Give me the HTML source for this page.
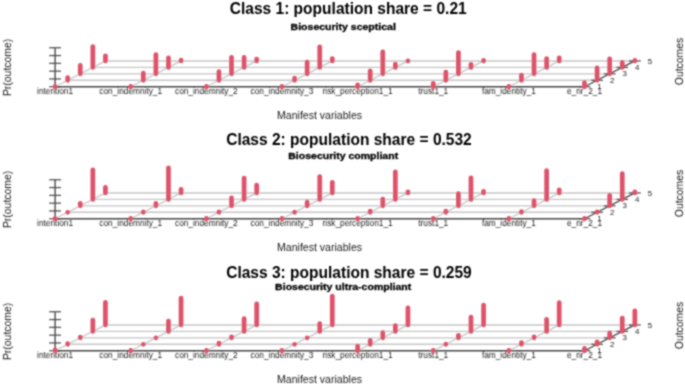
<!DOCTYPE html>
<html><head><meta charset="utf-8"><style>
html,body{margin:0;padding:0;background:#fff;}
body{width:685px;height:385px;overflow:hidden;}
svg{display:block;}
text{font-family:"Liberation Sans",sans-serif;}
</style></head><body>
<svg width="685" height="385" viewBox="0 0 685 385">
<defs><filter id="bl" x="-5%" y="-5%" width="110%" height="110%"><feConvolveMatrix order="3" kernelMatrix="1 2 1 2 6 2 1 2 1" preserveAlpha="false" edgeMode="duplicate"/></filter></defs>
<rect width="685" height="385" fill="#fff"/>
<g filter="url(#bl)">

<g>
<text transform="translate(348.2,13.5) scale(0.96,1)" font-size="16.2" font-weight="bold" text-anchor="middle" fill="#000">Class 1: population share = 0.21</text>
<text transform="translate(343.2,30.1) scale(1.145,1)" font-size="9.2" font-weight="bold" text-anchor="middle" fill="#000" stroke="#000" stroke-width="0.3">Biosecurity sceptical</text>
<text transform="translate(10.6,67.4) rotate(-90)" font-size="10.45" text-anchor="middle" fill="#1a1a1a">Pr(outcome)</text>
<text transform="translate(683.2,61.5) rotate(-90)" font-size="10.4" text-anchor="middle" fill="#1a1a1a">Outcomes</text>
<text transform="translate(319.55,118.9) scale(1.037,1)" font-size="10.2" text-anchor="middle" fill="#1a1a1a">Manifest variables</text>
<line x1="67.68" y1="80.3" x2="597.09" y2="80.3" stroke="#c6c6c6" stroke-width="1.4"/>
<line x1="80.26" y1="73.85" x2="609.67" y2="73.85" stroke="#c6c6c6" stroke-width="1.4"/>
<line x1="92.84" y1="67.4" x2="622.25" y2="67.4" stroke="#c6c6c6" stroke-width="1.4"/>
<line x1="105.42" y1="60.95" x2="634.83" y2="60.95" stroke="#c6c6c6" stroke-width="1.4"/>
<line x1="55.1" y1="86.75" x2="105.42" y2="60.95" stroke="#c6c6c6" stroke-width="1.4"/>
<line x1="130.73" y1="86.75" x2="181.05" y2="60.95" stroke="#c6c6c6" stroke-width="1.4"/>
<line x1="206.36" y1="86.75" x2="256.68" y2="60.95" stroke="#c6c6c6" stroke-width="1.4"/>
<line x1="281.99" y1="86.75" x2="332.31" y2="60.95" stroke="#c6c6c6" stroke-width="1.4"/>
<line x1="357.62" y1="86.75" x2="407.94" y2="60.95" stroke="#c6c6c6" stroke-width="1.4"/>
<line x1="433.25" y1="86.75" x2="483.57" y2="60.95" stroke="#c6c6c6" stroke-width="1.4"/>
<line x1="508.88" y1="86.75" x2="559.2" y2="60.95" stroke="#c6c6c6" stroke-width="1.4"/>
<line x1="55.1" y1="86.75" x2="584.51" y2="86.75" stroke="#484848" stroke-width="1.4"/>
<line x1="584.51" y1="86.75" x2="634.83" y2="60.95" stroke="#484848" stroke-width="1.4"/>
<line x1="578.61" y1="86.75" x2="590.41" y2="86.75" stroke="#484848" stroke-width="1.2"/>
<text x="599.51" y="89.05" font-size="7.9" text-anchor="middle" fill="#222">1</text>
<line x1="591.19" y1="80.3" x2="602.99" y2="80.3" stroke="#484848" stroke-width="1.2"/>
<text x="612.09" y="82.75" font-size="7.9" text-anchor="middle" fill="#222">2</text>
<line x1="603.77" y1="73.85" x2="615.57" y2="73.85" stroke="#484848" stroke-width="1.2"/>
<text x="624.67" y="76.45" font-size="7.9" text-anchor="middle" fill="#222">3</text>
<line x1="616.35" y1="67.4" x2="628.15" y2="67.4" stroke="#484848" stroke-width="1.2"/>
<text x="637.25" y="70.15" font-size="7.9" text-anchor="middle" fill="#222">4</text>
<line x1="628.93" y1="60.95" x2="640.73" y2="60.95" stroke="#484848" stroke-width="1.2"/>
<text x="649.83" y="63.85" font-size="7.9" text-anchor="middle" fill="#222">5</text>
<line x1="55.1" y1="86.75" x2="55.1" y2="47.75" stroke="#484848" stroke-width="1.4"/>
<line x1="49.2" y1="86.75" x2="61" y2="86.75" stroke="#484848" stroke-width="1.2"/>
<line x1="49.2" y1="78.95" x2="61" y2="78.95" stroke="#484848" stroke-width="1.2"/>
<line x1="49.2" y1="71.15" x2="61" y2="71.15" stroke="#484848" stroke-width="1.2"/>
<line x1="49.2" y1="63.35" x2="61" y2="63.35" stroke="#484848" stroke-width="1.2"/>
<line x1="49.2" y1="55.55" x2="61" y2="55.55" stroke="#484848" stroke-width="1.2"/>
<line x1="49.2" y1="47.75" x2="61" y2="47.75" stroke="#484848" stroke-width="1.2"/>
<text x="55.1" y="93.85" font-size="8.3" text-anchor="middle" fill="#1a1a1a">intention1</text>
<text x="130.73" y="93.85" font-size="8.3" text-anchor="middle" fill="#1a1a1a">con_indemnity_1</text>
<text x="206.36" y="93.85" font-size="8.3" text-anchor="middle" fill="#1a1a1a">con_indemnity_2</text>
<text x="281.99" y="93.85" font-size="8.3" text-anchor="middle" fill="#1a1a1a">con_indemnity_3</text>
<text x="357.62" y="93.85" font-size="8.3" text-anchor="middle" fill="#1a1a1a">risk_perception1_1</text>
<text x="433.25" y="93.85" font-size="8.3" text-anchor="middle" fill="#1a1a1a">trust1_1</text>
<text x="508.88" y="93.85" font-size="8.3" text-anchor="middle" fill="#1a1a1a">fam_identity_1</text>
<text x="584.51" y="93.85" font-size="8.3" text-anchor="middle" fill="#1a1a1a">e_nr_2_1</text>
<g stroke="#DF536B" stroke-width="4.75" stroke-linecap="round">
<line x1="55.1" y1="86.75" x2="55.1" y2="86.4"/>
<line x1="67.68" y1="80.3" x2="67.68" y2="77.6"/>
<line x1="80.26" y1="73.85" x2="80.26" y2="65.45"/>
<line x1="92.84" y1="67.4" x2="92.84" y2="46.5"/>
<line x1="105.42" y1="60.95" x2="105.42" y2="55.75"/>
<line x1="130.73" y1="86.75" x2="130.73" y2="86.4"/>
<line x1="143.31" y1="80.3" x2="143.31" y2="73.2"/>
<line x1="155.89" y1="73.85" x2="155.89" y2="54.55"/>
<line x1="168.47" y1="67.4" x2="168.47" y2="57.75"/>
<line x1="181.05" y1="60.95" x2="181.05" y2="60.15"/>
<line x1="206.36" y1="86.75" x2="206.36" y2="86.4"/>
<line x1="218.94" y1="80.3" x2="218.94" y2="71.7"/>
<line x1="231.52" y1="73.85" x2="231.52" y2="57.35"/>
<line x1="244.1" y1="67.4" x2="244.1" y2="57.4"/>
<line x1="256.68" y1="60.95" x2="256.68" y2="59.05"/>
<line x1="281.99" y1="86.75" x2="281.99" y2="86.4"/>
<line x1="294.57" y1="80.3" x2="294.57" y2="78.2"/>
<line x1="307.15" y1="73.85" x2="307.15" y2="62.05"/>
<line x1="319.73" y1="67.4" x2="319.73" y2="46.85"/>
<line x1="332.31" y1="60.95" x2="332.31" y2="58.55"/>
<line x1="357.62" y1="86.75" x2="357.62" y2="84.85"/>
<line x1="370.2" y1="80.3" x2="370.2" y2="70.9"/>
<line x1="382.78" y1="73.85" x2="382.78" y2="51.75"/>
<line x1="395.36" y1="67.4" x2="395.36" y2="64"/>
<line x1="407.94" y1="60.95" x2="407.94" y2="60.9"/>
<line x1="433.25" y1="86.75" x2="433.25" y2="83.35"/>
<line x1="445.83" y1="80.3" x2="445.83" y2="72"/>
<line x1="458.41" y1="73.85" x2="458.41" y2="52.55"/>
<line x1="470.99" y1="67.4" x2="470.99" y2="64.3"/>
<line x1="483.57" y1="60.95" x2="483.57" y2="60.45"/>
<line x1="508.88" y1="86.75" x2="508.88" y2="86.4"/>
<line x1="521.46" y1="80.3" x2="521.46" y2="75.1"/>
<line x1="534.04" y1="73.85" x2="534.04" y2="54.55"/>
<line x1="546.62" y1="67.4" x2="546.62" y2="58.5"/>
<line x1="559.2" y1="60.95" x2="559.2" y2="57.8"/>
<line x1="584.51" y1="86.75" x2="584.51" y2="82.55"/>
<line x1="597.09" y1="80.3" x2="597.09" y2="67.8"/>
<line x1="609.67" y1="73.85" x2="609.67" y2="58.75"/>
<line x1="622.25" y1="67.4" x2="622.25" y2="62.4"/>
<line x1="634.83" y1="60.95" x2="634.83" y2="60.45"/>
</g></g>
<g>
<text transform="translate(348.95,145.4) scale(0.96,1)" font-size="16.2" font-weight="bold" text-anchor="middle" fill="#000">Class 2: population share = 0.532</text>
<text transform="translate(343.2,158.9) scale(1.145,1)" font-size="9.2" font-weight="bold" text-anchor="middle" fill="#000" stroke="#000" stroke-width="0.3">Biosecurity compliant</text>
<text transform="translate(10.6,199.4) rotate(-90)" font-size="10.45" text-anchor="middle" fill="#1a1a1a">Pr(outcome)</text>
<text transform="translate(683.2,193.5) rotate(-90)" font-size="10.4" text-anchor="middle" fill="#1a1a1a">Outcomes</text>
<text transform="translate(319.55,250.9) scale(1.037,1)" font-size="10.2" text-anchor="middle" fill="#1a1a1a">Manifest variables</text>
<line x1="67.68" y1="212.3" x2="597.09" y2="212.3" stroke="#c6c6c6" stroke-width="1.4"/>
<line x1="80.26" y1="205.85" x2="609.67" y2="205.85" stroke="#c6c6c6" stroke-width="1.4"/>
<line x1="92.84" y1="199.4" x2="622.25" y2="199.4" stroke="#c6c6c6" stroke-width="1.4"/>
<line x1="105.42" y1="192.95" x2="634.83" y2="192.95" stroke="#c6c6c6" stroke-width="1.4"/>
<line x1="55.1" y1="218.75" x2="105.42" y2="192.95" stroke="#c6c6c6" stroke-width="1.4"/>
<line x1="130.73" y1="218.75" x2="181.05" y2="192.95" stroke="#c6c6c6" stroke-width="1.4"/>
<line x1="206.36" y1="218.75" x2="256.68" y2="192.95" stroke="#c6c6c6" stroke-width="1.4"/>
<line x1="281.99" y1="218.75" x2="332.31" y2="192.95" stroke="#c6c6c6" stroke-width="1.4"/>
<line x1="357.62" y1="218.75" x2="407.94" y2="192.95" stroke="#c6c6c6" stroke-width="1.4"/>
<line x1="433.25" y1="218.75" x2="483.57" y2="192.95" stroke="#c6c6c6" stroke-width="1.4"/>
<line x1="508.88" y1="218.75" x2="559.2" y2="192.95" stroke="#c6c6c6" stroke-width="1.4"/>
<line x1="55.1" y1="218.75" x2="584.51" y2="218.75" stroke="#484848" stroke-width="1.4"/>
<line x1="584.51" y1="218.75" x2="634.83" y2="192.95" stroke="#484848" stroke-width="1.4"/>
<line x1="578.61" y1="218.75" x2="590.41" y2="218.75" stroke="#484848" stroke-width="1.2"/>
<text x="599.51" y="221.05" font-size="7.9" text-anchor="middle" fill="#222">1</text>
<line x1="591.19" y1="212.3" x2="602.99" y2="212.3" stroke="#484848" stroke-width="1.2"/>
<text x="612.09" y="214.75" font-size="7.9" text-anchor="middle" fill="#222">2</text>
<line x1="603.77" y1="205.85" x2="615.57" y2="205.85" stroke="#484848" stroke-width="1.2"/>
<text x="624.67" y="208.45" font-size="7.9" text-anchor="middle" fill="#222">3</text>
<line x1="616.35" y1="199.4" x2="628.15" y2="199.4" stroke="#484848" stroke-width="1.2"/>
<text x="637.25" y="202.15" font-size="7.9" text-anchor="middle" fill="#222">4</text>
<line x1="628.93" y1="192.95" x2="640.73" y2="192.95" stroke="#484848" stroke-width="1.2"/>
<text x="649.83" y="195.85" font-size="7.9" text-anchor="middle" fill="#222">5</text>
<line x1="55.1" y1="218.75" x2="55.1" y2="179.75" stroke="#484848" stroke-width="1.4"/>
<line x1="49.2" y1="218.75" x2="61" y2="218.75" stroke="#484848" stroke-width="1.2"/>
<line x1="49.2" y1="210.95" x2="61" y2="210.95" stroke="#484848" stroke-width="1.2"/>
<line x1="49.2" y1="203.15" x2="61" y2="203.15" stroke="#484848" stroke-width="1.2"/>
<line x1="49.2" y1="195.35" x2="61" y2="195.35" stroke="#484848" stroke-width="1.2"/>
<line x1="49.2" y1="187.55" x2="61" y2="187.55" stroke="#484848" stroke-width="1.2"/>
<line x1="49.2" y1="179.75" x2="61" y2="179.75" stroke="#484848" stroke-width="1.2"/>
<text x="55.1" y="225.85" font-size="8.3" text-anchor="middle" fill="#1a1a1a">intention1</text>
<text x="130.73" y="225.85" font-size="8.3" text-anchor="middle" fill="#1a1a1a">con_indemnity_1</text>
<text x="206.36" y="225.85" font-size="8.3" text-anchor="middle" fill="#1a1a1a">con_indemnity_2</text>
<text x="281.99" y="225.85" font-size="8.3" text-anchor="middle" fill="#1a1a1a">con_indemnity_3</text>
<text x="357.62" y="225.85" font-size="8.3" text-anchor="middle" fill="#1a1a1a">risk_perception1_1</text>
<text x="433.25" y="225.85" font-size="8.3" text-anchor="middle" fill="#1a1a1a">trust1_1</text>
<text x="508.88" y="225.85" font-size="8.3" text-anchor="middle" fill="#1a1a1a">fam_identity_1</text>
<text x="584.51" y="225.85" font-size="8.3" text-anchor="middle" fill="#1a1a1a">e_nr_2_1</text>
<g stroke="#DF536B" stroke-width="4.75" stroke-linecap="round">
<line x1="55.1" y1="218.75" x2="55.1" y2="218.4"/>
<line x1="67.68" y1="212.3" x2="67.68" y2="212.25"/>
<line x1="80.26" y1="205.85" x2="80.26" y2="203.25"/>
<line x1="92.84" y1="199.4" x2="92.84" y2="169.8"/>
<line x1="105.42" y1="192.95" x2="105.42" y2="187.45"/>
<line x1="130.73" y1="218.75" x2="130.73" y2="218.4"/>
<line x1="143.31" y1="212.3" x2="143.31" y2="211.9"/>
<line x1="155.89" y1="205.85" x2="155.89" y2="203.25"/>
<line x1="168.47" y1="199.4" x2="168.47" y2="167.95"/>
<line x1="181.05" y1="192.95" x2="181.05" y2="189.35"/>
<line x1="206.36" y1="218.75" x2="206.36" y2="218.4"/>
<line x1="218.94" y1="212.3" x2="218.94" y2="211.9"/>
<line x1="231.52" y1="205.85" x2="231.52" y2="197.95"/>
<line x1="244.1" y1="199.4" x2="244.1" y2="178.1"/>
<line x1="256.68" y1="192.95" x2="256.68" y2="185.15"/>
<line x1="281.99" y1="218.75" x2="281.99" y2="218.4"/>
<line x1="294.57" y1="212.3" x2="294.57" y2="212.2"/>
<line x1="307.15" y1="205.85" x2="307.15" y2="202.15"/>
<line x1="319.73" y1="199.4" x2="319.73" y2="176.5"/>
<line x1="332.31" y1="192.95" x2="332.31" y2="182.45"/>
<line x1="357.62" y1="218.75" x2="357.62" y2="218.4"/>
<line x1="370.2" y1="212.3" x2="370.2" y2="211"/>
<line x1="382.78" y1="205.85" x2="382.78" y2="199.05"/>
<line x1="395.36" y1="199.4" x2="395.36" y2="171.85"/>
<line x1="407.94" y1="192.95" x2="407.94" y2="191.85"/>
<line x1="433.25" y1="218.75" x2="433.25" y2="218.4"/>
<line x1="445.83" y1="212.3" x2="445.83" y2="211"/>
<line x1="458.41" y1="205.85" x2="458.41" y2="193.6"/>
<line x1="470.99" y1="199.4" x2="470.99" y2="177.8"/>
<line x1="483.57" y1="192.95" x2="483.57" y2="191.35"/>
<line x1="508.88" y1="218.75" x2="508.88" y2="218.4"/>
<line x1="521.46" y1="212.3" x2="521.46" y2="211.5"/>
<line x1="534.04" y1="205.85" x2="534.04" y2="200.65"/>
<line x1="546.62" y1="199.4" x2="546.62" y2="170.6"/>
<line x1="559.2" y1="192.95" x2="559.2" y2="189.85"/>
<line x1="584.51" y1="218.75" x2="584.51" y2="218.4"/>
<line x1="597.09" y1="212.3" x2="597.09" y2="211.9"/>
<line x1="609.67" y1="205.85" x2="609.67" y2="195.45"/>
<line x1="622.25" y1="199.4" x2="622.25" y2="173.7"/>
<line x1="634.83" y1="192.95" x2="634.83" y2="191.85"/>
</g></g>
<g>
<text transform="translate(348.95,277.7) scale(0.96,1)" font-size="16.2" font-weight="bold" text-anchor="middle" fill="#000">Class 3: population share = 0.259</text>
<text transform="translate(343.2,289.8) scale(1.145,1)" font-size="9.2" font-weight="bold" text-anchor="middle" fill="#000" stroke="#000" stroke-width="0.3">Biosecurity ultra-compliant</text>
<text transform="translate(10.6,331.4) rotate(-90)" font-size="10.45" text-anchor="middle" fill="#1a1a1a">Pr(outcome)</text>
<text transform="translate(683.2,325.5) rotate(-90)" font-size="10.4" text-anchor="middle" fill="#1a1a1a">Outcomes</text>
<text transform="translate(319.55,382.9) scale(1.037,1)" font-size="10.2" text-anchor="middle" fill="#1a1a1a">Manifest variables</text>
<line x1="67.68" y1="344.3" x2="597.09" y2="344.3" stroke="#c6c6c6" stroke-width="1.4"/>
<line x1="80.26" y1="337.85" x2="609.67" y2="337.85" stroke="#c6c6c6" stroke-width="1.4"/>
<line x1="92.84" y1="331.4" x2="622.25" y2="331.4" stroke="#c6c6c6" stroke-width="1.4"/>
<line x1="105.42" y1="324.95" x2="634.83" y2="324.95" stroke="#c6c6c6" stroke-width="1.4"/>
<line x1="55.1" y1="350.75" x2="105.42" y2="324.95" stroke="#c6c6c6" stroke-width="1.4"/>
<line x1="130.73" y1="350.75" x2="181.05" y2="324.95" stroke="#c6c6c6" stroke-width="1.4"/>
<line x1="206.36" y1="350.75" x2="256.68" y2="324.95" stroke="#c6c6c6" stroke-width="1.4"/>
<line x1="281.99" y1="350.75" x2="332.31" y2="324.95" stroke="#c6c6c6" stroke-width="1.4"/>
<line x1="357.62" y1="350.75" x2="407.94" y2="324.95" stroke="#c6c6c6" stroke-width="1.4"/>
<line x1="433.25" y1="350.75" x2="483.57" y2="324.95" stroke="#c6c6c6" stroke-width="1.4"/>
<line x1="508.88" y1="350.75" x2="559.2" y2="324.95" stroke="#c6c6c6" stroke-width="1.4"/>
<line x1="55.1" y1="350.75" x2="584.51" y2="350.75" stroke="#484848" stroke-width="1.4"/>
<line x1="584.51" y1="350.75" x2="634.83" y2="324.95" stroke="#484848" stroke-width="1.4"/>
<line x1="578.61" y1="350.75" x2="590.41" y2="350.75" stroke="#484848" stroke-width="1.2"/>
<text x="599.51" y="353.05" font-size="7.9" text-anchor="middle" fill="#222">1</text>
<line x1="591.19" y1="344.3" x2="602.99" y2="344.3" stroke="#484848" stroke-width="1.2"/>
<text x="612.09" y="346.75" font-size="7.9" text-anchor="middle" fill="#222">2</text>
<line x1="603.77" y1="337.85" x2="615.57" y2="337.85" stroke="#484848" stroke-width="1.2"/>
<text x="624.67" y="340.45" font-size="7.9" text-anchor="middle" fill="#222">3</text>
<line x1="616.35" y1="331.4" x2="628.15" y2="331.4" stroke="#484848" stroke-width="1.2"/>
<text x="637.25" y="334.15" font-size="7.9" text-anchor="middle" fill="#222">4</text>
<line x1="628.93" y1="324.95" x2="640.73" y2="324.95" stroke="#484848" stroke-width="1.2"/>
<text x="649.83" y="327.85" font-size="7.9" text-anchor="middle" fill="#222">5</text>
<line x1="55.1" y1="350.75" x2="55.1" y2="311.75" stroke="#484848" stroke-width="1.4"/>
<line x1="49.2" y1="350.75" x2="61" y2="350.75" stroke="#484848" stroke-width="1.2"/>
<line x1="49.2" y1="342.95" x2="61" y2="342.95" stroke="#484848" stroke-width="1.2"/>
<line x1="49.2" y1="335.15" x2="61" y2="335.15" stroke="#484848" stroke-width="1.2"/>
<line x1="49.2" y1="327.35" x2="61" y2="327.35" stroke="#484848" stroke-width="1.2"/>
<line x1="49.2" y1="319.55" x2="61" y2="319.55" stroke="#484848" stroke-width="1.2"/>
<line x1="49.2" y1="311.75" x2="61" y2="311.75" stroke="#484848" stroke-width="1.2"/>
<text x="55.1" y="357.85" font-size="8.3" text-anchor="middle" fill="#1a1a1a">intention1</text>
<text x="130.73" y="357.85" font-size="8.3" text-anchor="middle" fill="#1a1a1a">con_indemnity_1</text>
<text x="206.36" y="357.85" font-size="8.3" text-anchor="middle" fill="#1a1a1a">con_indemnity_2</text>
<text x="281.99" y="357.85" font-size="8.3" text-anchor="middle" fill="#1a1a1a">con_indemnity_3</text>
<text x="357.62" y="357.85" font-size="8.3" text-anchor="middle" fill="#1a1a1a">risk_perception1_1</text>
<text x="433.25" y="357.85" font-size="8.3" text-anchor="middle" fill="#1a1a1a">trust1_1</text>
<text x="508.88" y="357.85" font-size="8.3" text-anchor="middle" fill="#1a1a1a">fam_identity_1</text>
<text x="584.51" y="357.85" font-size="8.3" text-anchor="middle" fill="#1a1a1a">e_nr_2_1</text>
<g stroke="#DF536B" stroke-width="4.75" stroke-linecap="round">
<line x1="55.1" y1="350.75" x2="55.1" y2="349.9"/>
<line x1="67.68" y1="344.3" x2="67.68" y2="343.7"/>
<line x1="80.26" y1="337.85" x2="80.26" y2="337.15"/>
<line x1="92.84" y1="331.4" x2="92.84" y2="320.1"/>
<line x1="105.42" y1="324.95" x2="105.42" y2="302.25"/>
<line x1="130.73" y1="350.75" x2="130.73" y2="350.4"/>
<line x1="143.31" y1="344.3" x2="143.31" y2="344.25"/>
<line x1="155.89" y1="337.85" x2="155.89" y2="337.8"/>
<line x1="168.47" y1="331.4" x2="168.47" y2="321"/>
<line x1="181.05" y1="324.95" x2="181.05" y2="298"/>
<line x1="206.36" y1="350.75" x2="206.36" y2="350.4"/>
<line x1="218.94" y1="344.3" x2="218.94" y2="343"/>
<line x1="231.52" y1="337.85" x2="231.52" y2="336.85"/>
<line x1="244.1" y1="331.4" x2="244.1" y2="318.7"/>
<line x1="256.68" y1="324.95" x2="256.68" y2="303.75"/>
<line x1="281.99" y1="350.75" x2="281.99" y2="350.4"/>
<line x1="294.57" y1="344.3" x2="294.57" y2="344.25"/>
<line x1="307.15" y1="337.85" x2="307.15" y2="337.8"/>
<line x1="319.73" y1="331.4" x2="319.73" y2="323.6"/>
<line x1="332.31" y1="324.95" x2="332.31" y2="296.15"/>
<line x1="357.62" y1="350.75" x2="357.62" y2="346.05"/>
<line x1="370.2" y1="344.3" x2="370.2" y2="340.4"/>
<line x1="382.78" y1="337.85" x2="382.78" y2="332.65"/>
<line x1="395.36" y1="331.4" x2="395.36" y2="325.5"/>
<line x1="407.94" y1="324.95" x2="407.94" y2="307.85"/>
<line x1="433.25" y1="350.75" x2="433.25" y2="350.4"/>
<line x1="445.83" y1="344.3" x2="445.83" y2="344.1"/>
<line x1="458.41" y1="337.85" x2="458.41" y2="335.25"/>
<line x1="470.99" y1="331.4" x2="470.99" y2="317.1"/>
<line x1="483.57" y1="324.95" x2="483.57" y2="305.05"/>
<line x1="508.88" y1="350.75" x2="508.88" y2="350.4"/>
<line x1="521.46" y1="344.3" x2="521.46" y2="342.6"/>
<line x1="534.04" y1="337.85" x2="534.04" y2="336.85"/>
<line x1="546.62" y1="331.4" x2="546.62" y2="319.3"/>
<line x1="559.2" y1="324.95" x2="559.2" y2="302.65"/>
<line x1="584.51" y1="350.75" x2="584.51" y2="348.45"/>
<line x1="597.09" y1="344.3" x2="597.09" y2="341.9"/>
<line x1="609.67" y1="337.85" x2="609.67" y2="332.95"/>
<line x1="622.25" y1="331.4" x2="622.25" y2="318.2"/>
<line x1="634.83" y1="324.95" x2="634.83" y2="310.75"/>
</g></g>
</g></svg>
</body></html>
